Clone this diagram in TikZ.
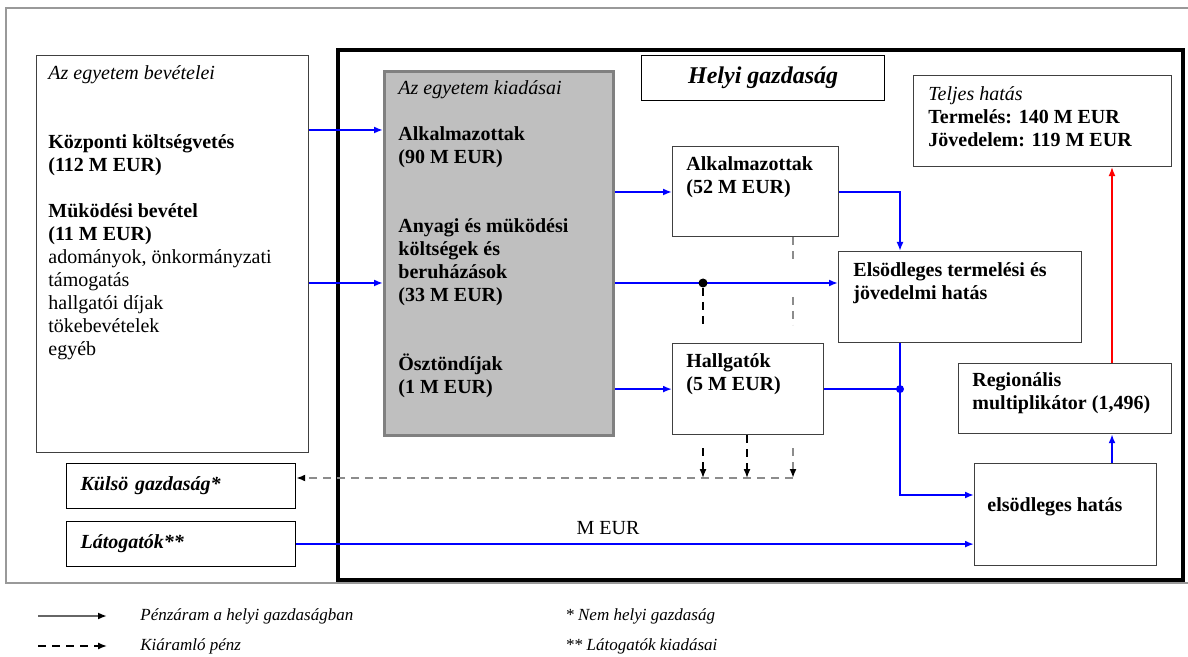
\documentclass[tikz,border=0pt]{standalone}
\usepackage{fontspec}
\setmainfont{Liberation Serif}
\usetikzlibrary{positioning,arrows.meta}

\tikzset{
  box/.style={draw=black!75, line width=0.6pt, anchor=north west, fill=white},
  txt/.style={inner sep=0pt, align=left, font=\fontsize{10}{11.5}\selectfont\bfseries},
  flow/.style={->, blue, line width=0.9pt},
  outd/.style={black, line width=0.7pt, dash pattern=on 4pt off 3pt},
  outg/.style={black!45, line width=1pt, dash pattern=on 4pt off 3pt},
  legtxt/.style={anchor=west, inner sep=0pt, font=\fontsize{8.5}{10}\selectfont\itshape},
}

\begin{document}
\begin{tikzpicture}[x=0.5pt, y=-0.5pt, >={Latex[length=4.5pt,width=3.5pt]}]

\useasboundingbox (0,0) rectangle (1188,657);

% frames
\draw[black!40, line width=1pt] (1188,8) -- (6,8) -- (6,583) -- (1188,583);
\draw[fill=white, line width=2pt] (338,50) rectangle (1183,580);

% university
\node[box, minimum width=136pt, minimum height=198.5pt] (bev) at (36,55) {};
\node[txt, below right=5pt and 6pt of bev.north west] (bevT) {\textmd{\textit{Az egyetem bevételei}}\\[23pt]
  Központi költségvetés\\ (112 M EUR)\\[11.5pt]
  Müködési bevétel\\ (11 M EUR)\\
  \textmd{adományok, önkormányzati}\\ \textmd{támogatás}\\ \textmd{hallgatói díjak}\\
  \textmd{tökebevételek}\\ \textmd{egyéb}};

\node[box, draw=black!50, line width=1.5pt, fill=black!25, minimum width=114.5pt, minimum height=182pt] (kiad) at (383,70) {};
\node[txt, below right=5pt and 7.5pt of kiad.north west] (kiadT) {\textmd{\textit{Az egyetem kiadásai}}\\[11.5pt]
  Alkalmazottak\\ (90 M EUR)\\[23pt]
  Anyagi és müködési\\ költségek és\\ beruházások\\ (33 M EUR)\\[23pt]
  Ösztöndíjak\\ (1 M EUR)};

% local economy
\node[box, draw=black, minimum width=121.5pt, minimum height=22.5pt, font=\fontsize{12}{14}\selectfont\bfseries\itshape] (helyi) at (641,55) {Helyi gazdaság};

\node[box, minimum width=129pt, minimum height=45.5pt] (telj) at (913,75) {};
\node[txt, below right=5.5pt and 7.5pt of telj.north west] (teljT) {\textmd{\textit{Teljes hatás}}\\ Termelés: 140 M EUR\\ Jövedelem: 119 M EUR};

\node[box, minimum width=83pt, minimum height=45pt] (alk) at (672,146) {};
\node[txt, below right=5pt and 7pt of alk.north west] (alkT) {Alkalmazottak\\ (52 M EUR)};

\node[box, minimum width=121.5pt, minimum height=45.5pt] (elso) at (838,251) {};
\node[txt, below right=5.5pt and 7.5pt of elso.north west] (elsoT) {Elsödleges termelési és\\ jövedelmi hatás};

\node[box, minimum width=75.5pt, minimum height=45.5pt] (hallg) at (672,343) {};
\node[txt, below right=5pt and 7pt of hallg.north west] (hallgT) {Hallgatók\\ (5 M EUR)};

\node[box, minimum width=106.5pt, minimum height=35pt] (reg) at (958,363) {};
\node[txt, below right=4.5pt and 7pt of reg.north west] (regT) {Regionális\\ multiplikátor (1,496)};

\node[box, minimum width=91pt, minimum height=51pt] (elsh) at (974,463) {};
\node[txt, below right=17pt and 6.5pt of elsh.north west] (elshT) {elsödleges hatás};

% outside
\node[box, draw=black, minimum width=114.5pt, minimum height=22.5pt, text width=100.5pt, inner xsep=7pt, align=left, font=\fontsize{10}{12}\selectfont\bfseries\itshape] (kulso) at (66,463) {Külsö gazdaság*};
\node[box, draw=black, minimum width=114.5pt, minimum height=22.5pt, text width=100.5pt, inner xsep=7pt, align=left, font=\fontsize{10}{12}\selectfont\bfseries\itshape] (latog) at (66,521) {Látogatók**};

% rows and columns
\coordinate (r1) at (0,130);
\coordinate (r2) at (0,283);
\coordinate (r3) at (0,192);
\coordinate (r5) at (0,495);
\coordinate (r7) at (0,478);
\coordinate (c1) at (703,0);
\coordinate (c2) at (747,0);
\coordinate (c3) at (793,0);
\coordinate (c4) at (900,0);
\coordinate (c5) at (1112,0);

% money flows
\draw[flow] (bev.east |- r1) -- (kiad.west |- r1);
\draw[flow] (bev.east |- r2) -- (kiad.west |- r2);
\draw[flow] (kiad.east |- r3) -- (alk.west |- r3);
\draw[flow] (kiad.east |- r2) -- (elso.west |- r2);
\draw[flow] (kiad.east |- hallg.west) -- (hallg.west);
\draw[flow] (alk.east |- r3) -| (c4 |- elso.north);
\draw[flow, -] (hallg.east) -- (c4 |- hallg.east);
\draw[flow] (c4 |- elso.south) |- (elsh.west |- r5);
\draw[flow] (c5 |- elsh.north) -- (c5 |- reg.south);
\draw[flow, red, line width=0.6pt] (c5 |- reg.north) -- (c5 |- telj.south);
\draw[flow] (latog.east) -- node[above=1pt, pos=0.46, text=black, font=\fontsize{10}{12}\selectfont] (meur) {M EUR} (elsh.west |- latog.east);

\node[circle, fill=black, inner sep=0pt, minimum size=4.5pt] (dot) at (c1 |- r2) {};
\node[circle, fill=blue, inner sep=0pt, minimum size=4pt] (jn) at (c4 |- hallg.east) {};

% outflow
\coordinate (d1) at (703,325);
\coordinate (o1) at (703,448);
\coordinate (o3) at (793,448);
\coordinate (g1) at (793,265);
\coordinate (g2) at (793,297);
\coordinate (g3) at (793,325);
\draw[outd] (dot) -- (d1);
\draw[outg] (c3 |- alk.south) -- (g1);
\draw[outg] (g2) -- (g3);
\draw[outg, -{Latex[length=4.5pt,width=3.5pt,color=black]}] (c3 |- r7) -- (kulso.east |- r7);
\draw[outd, ->] (o1) -- (c1 |- r7);
\draw[outd, ->] (c2 |- hallg.south) -- (c2 |- r7);
\draw[outg, -{Latex[length=4.5pt,width=3.5pt,color=black]}] (o3) -- (c3 |- r7);

% legend
\node[legtxt] (leg1) at (140,616) {Pénzáram a helyi gazdaságban};
\node[legtxt] (leg2) at (140,646) {Kiáramló pénz};
\node[legtxt] (leg3) at (565,616) {* Nem helyi gazdaság};
\node[legtxt] (leg4) at (565,646) {** Látogatók kiadásai};
\draw[black!60, line width=1pt, -{Latex[length=4.5pt,width=3.5pt,color=black]}] ([xshift=-51pt]leg1.west) -- ([xshift=-16.5pt]leg1.west);
\draw[outd, ->] ([xshift=-51pt]leg2.west) -- ([xshift=-16.5pt]leg2.west);

\end{tikzpicture}
\end{document}
